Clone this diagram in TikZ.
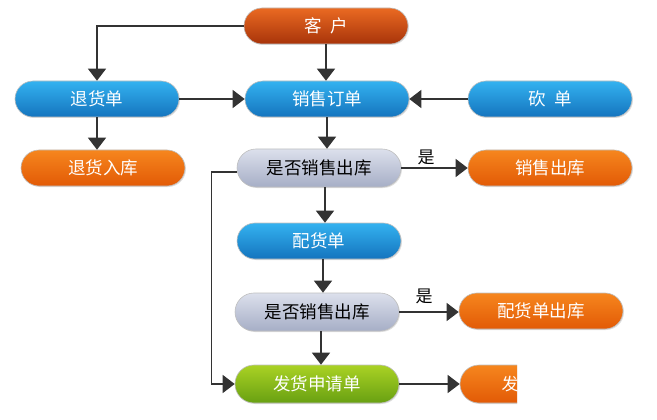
\documentclass[tikz,border=0pt]{standalone}
\usepackage{fontspec}
\newfontfamily\cjk{Noto Sans CJK SC}
\usetikzlibrary{arrows.meta,shadows}
\definecolor{redtop}{HTML}{EA6A22}
\definecolor{redbot}{HTML}{A8340A}
\definecolor{orgtop}{HTML}{F6861E}
\definecolor{orgbot}{HTML}{E25A06}
\definecolor{bluetop}{HTML}{34B2F0}
\definecolor{bluebot}{HTML}{1474BE}
\definecolor{graytop}{HTML}{DCE0EC}
\definecolor{graybot}{HTML}{A6AEC6}
\definecolor{greentop}{HTML}{AAD224}
\definecolor{greenbot}{HTML}{68A012}
\definecolor{linec}{HTML}{333333}
\begin{document}
\begin{tikzpicture}[x=1pt,y=1pt,
  box/.style={rounded corners=18pt, minimum width=164pt, minimum height=36pt, inner sep=0pt,
    font=\cjk\fontsize{17.5}{20}\selectfont, text=white, draw=black!25, line width=0.6pt,
    drop shadow={shadow xshift=1pt, shadow yshift=-1pt, opacity=0.25}},
  redbox/.style={box, top color=redtop, bottom color=redbot},
  orgbox/.style={box, top color=orgtop, bottom color=orgbot},
  bluebox/.style={box, top color=bluetop, bottom color=bluebot},
  graybox/.style={box, top color=graytop, bottom color=graybot, text=black, minimum height=38pt, rounded corners=19pt},
  greenbox/.style={box, top color=greentop, bottom color=greenbot, minimum height=38pt, rounded corners=19pt},
  conn/.style={draw=linec, line width=1.2pt, -{Triangle[width=18pt,length=12pt]}},
  yes/.style={font=\cjk\fontsize{17}{20}\selectfont, text=black, inner sep=0pt}
]
\useasboundingbox (0,0) rectangle (657,-420);

\node[redbox] (kh) at (326,-26) {客\hspace{0.5em}户};
\node[bluebox] (th) at (97,-99) {退货单};
\node[bluebox] (xs) at (327,-99) {销售订单};
\node[bluebox] (kd) at (550,-99) {砍\hspace{0.5em}单};
\node[orgbox] (thrk) at (103,-168) {退货入库};
\node[graybox] (q1) at (319,-168) {是否销售出库};
\node[orgbox] (xsck) at (550,-168) {销售出库};
\node[bluebox] (ph) at (319,-241) {配货单};
\node[graybox] (q2) at (317,-312) {是否销售出库};
\node[orgbox] (phck) at (541,-311) {配货单出库};
\node[greenbox] (fh) at (317,-384) {发货申请单};
\begin{scope}
  \clip (440,-350) rectangle (517,-415);
  \node[orgbox, minimum height=38pt, rounded corners=19pt] (fhck) at (542,-384) {};
  \node[yes, text=white, anchor=west] (fhtext) at (501.5,-384) {发};
\end{scope}

\node[yes] (y1) at (426,-157) {是};
\node[yes] (y2) at (424,-296) {是};

\draw[conn] (kh.west) -| (th.north);
\draw[conn] (kh.south) -- (kh.south |- xs.north);
\draw[conn] (th.east) -- (xs.west);
\draw[conn] (kd.west) -- (xs.east);
\draw[conn] (th.south) -- (th.south |- thrk.north);
\draw[conn] (xs.south) -- (xs.south |- q1.north);
\draw[conn] (q1.east) -- (xsck.west);
\draw[conn] ([xshift=6pt]q1.south) -- ([xshift=6pt]q1.south |- ph.north);
\draw[conn] ([yshift=-4pt]q1.west) -- ++(-25,0) |- (fh.west);
\draw[conn] ([xshift=4pt]ph.south) -- ([xshift=4pt]ph.south |- q2.north);
\draw[conn] (q2.east) -- (q2.east -| phck.west);
\draw[conn] ([xshift=4pt]q2.south) -- ([xshift=4pt]q2.south |- fh.north);
\draw[conn] (fh.east) -- (fh.east -| fhck.west);
\end{tikzpicture}
\end{document}
